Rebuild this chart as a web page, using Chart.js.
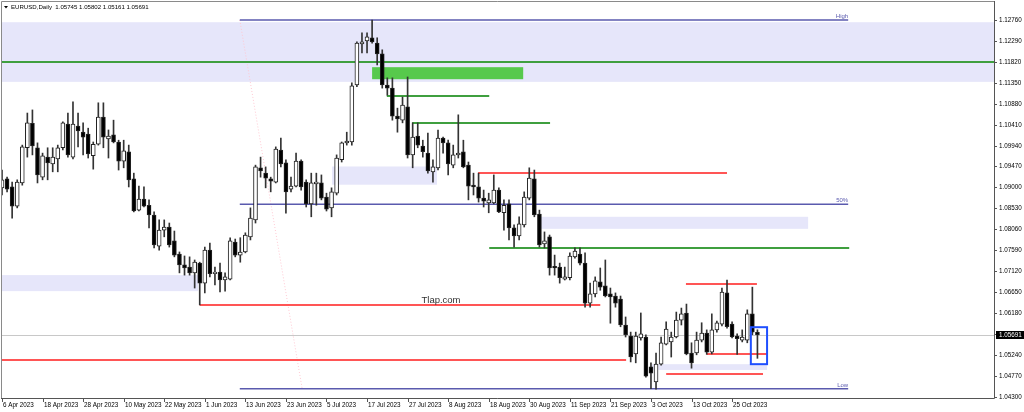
<!DOCTYPE html>
<html>
<head>
<meta charset="utf-8">
<script src="https://cdn.jsdelivr.net/npm/chart.js@4.4.1/dist/chart.umd.min.js"></script>
<style>
html, body { margin: 0; padding: 0; background: #fff; overflow: hidden; }
canvas { display: block; }
</style>
</head>
<body>
<canvas id="chart" width="1024" height="412"></canvas>
<script>
// EURUSD daily candles, 6 Apr 2023 .. 1 Nov 2023
const opens = [
  1.0899, 1.0919, 1.0901, 1.0858, 1.0910, 1.0989, 1.1044, 1.0989, 1.0923, 1.0968,
  1.0953, 1.0964, 1.0989, 1.1042, 1.0968, 1.1038, 1.1024, 1.1020, 1.0971, 1.0997,
  1.1058, 1.1009, 1.1018, 1.1002, 1.0959, 1.0980, 1.0919, 1.0849, 1.0874, 1.0860,
  1.0838, 1.0768, 1.0804, 1.0811, 1.0780, 1.0750, 1.0726, 1.0721, 1.0708, 1.0730,
  1.0685, 1.0759, 1.0706, 1.0710, 1.0692, 1.0694, 1.0777, 1.0748, 1.0755, 1.0789,
  1.0827, 1.0944, 1.0932, 1.0919, 1.0912, 1.0984, 1.0955, 1.0896, 1.0903, 1.0959,
  1.0912, 1.0863, 1.0908, 1.0910, 1.0878, 1.0854, 1.0887, 1.0962, 1.1000, 1.1002,
  1.1130, 1.1222, 1.1229, 1.1236, 1.1224, 1.1200, 1.1130, 1.1123, 1.1060, 1.1051,
  1.1081, 1.0973, 1.1015, 1.0993, 1.0977, 1.0935, 1.0944, 1.1011, 1.1000, 1.0950,
  1.0973, 1.0980, 1.0950, 1.0905, 1.0901, 1.0876, 1.0865, 1.0865, 1.0894, 1.0843,
  1.0863, 1.0809, 1.0791, 1.0816, 1.0876, 1.0919, 1.0840, 1.0773, 1.0789, 1.0723,
  1.0721, 1.0694, 1.0697, 1.0744, 1.0750, 1.0730, 1.0640, 1.0661, 1.0688, 1.0679,
  1.0661, 1.0656, 1.0649, 1.0591, 1.0566, 1.0526, 1.0562, 1.0564, 1.0497, 1.0463,
  1.0503, 1.0548, 1.0553, 1.0564, 1.0602, 1.0618, 1.0528, 1.0528, 1.0557, 1.0573,
  1.0530, 1.0580, 1.0593, 1.0663, 1.0593, 1.0566, 1.0557, 1.0557, 1.0616, 1.05745
];
const highs = [
  1.0939, 1.0923, 1.0912, 1.0917, 1.0995, 1.1067, 1.1074, 1.1000, 1.0977, 1.0989,
  1.0989, 1.0995, 1.1047, 1.1067, 1.1092, 1.1067, 1.1045, 1.1033, 1.1002, 1.1090,
  1.1090, 1.1029, 1.1051, 1.1006, 1.1006, 1.0995, 1.0932, 1.0903, 1.0901, 1.0872,
  1.0845, 1.0827, 1.0827, 1.0820, 1.0802, 1.0755, 1.0746, 1.0744, 1.0737, 1.0732,
  1.0766, 1.0775, 1.0721, 1.0730, 1.0708, 1.0787, 1.0784, 1.0787, 1.0798, 1.0854,
  1.0950, 1.0968, 1.0946, 1.0923, 1.0991, 1.1011, 1.0962, 1.0923, 1.0977, 1.0962,
  1.0917, 1.0932, 1.0932, 1.0928, 1.0887, 1.0899, 1.0973, 1.1002, 1.1024, 1.1135,
  1.1227, 1.1247, 1.1247, 1.1276, 1.1236, 1.1209, 1.1146, 1.1146, 1.1078, 1.1103,
  1.1148, 1.1045, 1.1045, 1.1006, 1.1022, 1.0962, 1.1029, 1.1013, 1.1006, 1.0995,
  1.1063, 1.1006, 1.0957, 1.0932, 1.0932, 1.0894, 1.0887, 1.0928, 1.0899, 1.0872,
  1.0872, 1.0816, 1.0834, 1.0890, 1.0944, 1.0939, 1.0849, 1.0800, 1.0793, 1.0748,
  1.0730, 1.0721, 1.0753, 1.0764, 1.0764, 1.0753, 1.0685, 1.0699, 1.0719, 1.0737,
  1.0674, 1.0663, 1.0656, 1.0609, 1.0575, 1.0575, 1.0618, 1.0569, 1.0506, 1.0528,
  1.0564, 1.0598, 1.0575, 1.0620, 1.0629, 1.0638, 1.0551, 1.0575, 1.0596, 1.0580,
  1.0616, 1.0600, 1.0674, 1.0692, 1.0598, 1.0571, 1.0580, 1.0625, 1.0676, 1.05802
];
const lows = [
  1.0883, 1.0890, 1.0831, 1.0854, 1.0905, 1.0968, 1.0973, 1.0910, 1.0917, 1.0917,
  1.0935, 1.0935, 1.0984, 1.0968, 1.0964, 1.0991, 1.0973, 1.0966, 1.0941, 1.0995,
  1.0989, 1.0966, 1.1000, 1.0939, 1.0944, 1.0901, 1.0845, 1.0847, 1.0856, 1.0809,
  1.0764, 1.0759, 1.0789, 1.0766, 1.0744, 1.0708, 1.0703, 1.0703, 1.0674, 1.0636,
  1.0663, 1.0699, 1.0681, 1.0665, 1.0667, 1.0692, 1.0744, 1.0732, 1.0753, 1.0782,
  1.0820, 1.0923, 1.0899, 1.0890, 1.0910, 1.0946, 1.0842, 1.0890, 1.0901, 1.0894,
  1.0856, 1.0834, 1.0860, 1.0872, 1.0847, 1.0834, 1.0883, 1.0957, 1.0995, 1.0995,
  1.1126, 1.1202, 1.1202, 1.1224, 1.1175, 1.1123, 1.1107, 1.1051, 1.1024, 1.1045,
  1.0966, 1.0944, 1.0989, 1.0968, 1.0932, 1.0912, 1.0939, 1.0977, 1.0928, 1.0944,
  1.0966, 1.0944, 1.0872, 1.0883, 1.0867, 1.0856, 1.0843, 1.0863, 1.0843, 1.0804,
  1.0782, 1.0766, 1.0782, 1.0811, 1.0872, 1.0834, 1.0766, 1.0764, 1.0703, 1.0703,
  1.0685, 1.0692, 1.0692, 1.0741, 1.0726, 1.0631, 1.0631, 1.0654, 1.0669, 1.0654,
  1.0595, 1.0631, 1.0587, 1.0564, 1.0508, 1.0506, 1.0557, 1.0474, 1.0448, 1.0447,
  1.0501, 1.0546, 1.0519, 1.0562, 1.0591, 1.0524, 1.0494, 1.0524, 1.0553, 1.0525,
  1.0526, 1.0575, 1.0589, 1.0584, 1.0562, 1.0525, 1.0553, 1.0551, 1.0569, 1.05161
];
const closes = [
  1.0917, 1.0896, 1.0858, 1.0912, 1.0991, 1.1045, 1.0993, 1.0928, 1.0971, 1.0955,
  1.0968, 1.0989, 1.1045, 1.0973, 1.1042, 1.1027, 1.1013, 1.0975, 1.0997, 1.1058,
  1.1013, 1.1015, 1.1002, 1.0959, 1.0982, 1.0917, 1.0847, 1.0874, 1.0858, 1.0838,
  1.0771, 1.0804, 1.0811, 1.0771, 1.0748, 1.0726, 1.0719, 1.0708, 1.0732, 1.0685,
  1.0759, 1.0706, 1.0710, 1.0692, 1.0699, 1.0780, 1.0748, 1.0755, 1.0793, 1.0831,
  1.0946, 1.0937, 1.0921, 1.0914, 1.0986, 1.0953, 1.0890, 1.0903, 1.0959, 1.0901,
  1.0863, 1.0910, 1.0912, 1.0876, 1.0851, 1.0890, 1.0966, 1.1000, 1.1004, 1.1128,
  1.1224, 1.1227, 1.1238, 1.1227, 1.1200, 1.1130, 1.1123, 1.1060, 1.1054, 1.1085,
  1.0973, 1.1013, 1.0995, 1.0980, 1.0937, 1.0946, 1.1011, 1.1000, 1.0953, 1.0973,
  1.0977, 1.0946, 1.0903, 1.0901, 1.0876, 1.0869, 1.0872, 1.0894, 1.0845, 1.0860,
  1.0809, 1.0791, 1.0818, 1.0878, 1.0921, 1.0838, 1.0771, 1.0780, 1.0719, 1.0719,
  1.0697, 1.0699, 1.0746, 1.0757, 1.0730, 1.0640, 1.0661, 1.0690, 1.0676, 1.0656,
  1.0654, 1.0640, 1.0591, 1.0569, 1.0519, 1.0566, 1.0571, 1.0476, 1.0483, 1.0503,
  1.0551, 1.0582, 1.0564, 1.0602, 1.0616, 1.0526, 1.0506, 1.0557, 1.0573, 1.0530,
  1.0580, 1.0596, 1.0665, 1.0587, 1.0564, 1.0560, 1.0564, 1.0616, 1.0575, 1.05691
];

// date labels, one every 8 bars starting at bar 0
const dateLabels = ['6 Apr 2023', '18 Apr 2023', '28 Apr 2023', '10 May 2023', '22 May 2023',
  '1 Jun 2023', '13 Jun 2023', '23 Jun 2023', '5 Jul 2023', '17 Jul 2023', '27 Jul 2023',
  '8 Aug 2023', '18 Aug 2023', '30 Aug 2023', '11 Sep 2023', '21 Sep 2023', '3 Oct 2023',
  '13 Oct 2023', '25 Oct 2023'];
const labelStep = 8;

const priceTicks = [1.12760, 1.12290, 1.11820, 1.11350, 1.10880, 1.10410, 1.09940, 1.09470,
  1.09000, 1.08530, 1.08060, 1.07590, 1.07120, 1.06650, 1.06180, 1.05710, 1.05240, 1.04770, 1.04300];
const lastPrice = 1.05691;
const header = 'EURUSD,Daily  1.05745 1.05802 1.05161 1.05691';

// drawn objects, in bar index / price units (null = edge of the chart)
const zones = [            // from, to, top, bottom, colour
  [null, null, 1.1271, 1.1137, '#e6e6fa'],
  [65.1, 85.8, 1.0947, 1.0906, '#e6e6fa'],
  [105.7, 159.0, 1.0834, 1.0807, '#e6e6fa'],
  [null, 38.7, 1.0703, 1.0667, '#e6e6fa'],
  [128.2, 150.9, 1.0503, 1.0490, '#e6e6fa'],
  [73.0, 102.8, 1.1170, 1.1143, '#57c94c']
];
const levels = [           // from, to, price, colour
  [null, null, 1.1182, '#3f9f3f'],
  [75.9, 96.1, 1.1106, '#3f9f3f'],
  [80.9, 108.1, 1.1045, '#3f9f3f'],
  [93.9, 143.0, 1.0932, '#ff5555'],
  [96.1, 167.1, 1.0765, '#3f9f3f'],
  [39.0, 118.0, 1.0635, '#ff5555'],
  [null, 123.1, 1.0512, '#ff5555'],
  [134.9, 148.9, 1.0683, '#ff5555'],
  [139.0, 150.9, 1.0525, '#ff5555'],
  [131.0, 150.1, 1.0481, '#ff5555']
];
const fibFrom = 46.9, fibTo = 166.9;
const fibLevels = [['High', 1.1276], ['50%', 1.0862], ['Low', 1.0448]];
const fibTrend = [[46.9, 1.1276], [59.2, 1.0448]];
const markBox = [147.7, 150.9, 1.0586, 1.0503];

const barStep = 5.07;
const yMax = 1.13164, yMin = 1.04270;

const bodyColours = opens.map((o, i) => closes[i] >= o ? '#ffffff' : '#000000');

const overlay = {
  id: 'overlay',
  beforeDatasetsDraw(chart) {
    const { ctx, chartArea: a, scales: { x, y } } = chart;
    const X = (v, edge) => v === null ? edge : x.getPixelForValue(v);
    ctx.save();
    ctx.beginPath();
    ctx.rect(a.left, a.top, a.right - a.left, a.bottom - a.top);
    ctx.clip();

    zones.forEach(([f, t, top, bot, col]) => {
      const x1 = X(f, a.left), x2 = X(t, a.right);
      const y1 = y.getPixelForValue(top), y2 = y.getPixelForValue(bot);
      ctx.fillStyle = col;
      ctx.fillRect(x1, y1, x2 - x1, y2 - y1);
    });

    // current price
    const py = Math.round(y.getPixelForValue(lastPrice)) + 0.5;
    ctx.strokeStyle = '#c8c8c8';
    ctx.lineWidth = 1;
    ctx.beginPath(); ctx.moveTo(a.left, py); ctx.lineTo(a.right, py); ctx.stroke();

    // fibo trend line
    ctx.strokeStyle = '#ffc8d2';
    ctx.setLineDash([1, 2]);
    ctx.beginPath();
    ctx.moveTo(X(fibTrend[0][0]), y.getPixelForValue(fibTrend[0][1]));
    ctx.lineTo(X(fibTrend[1][0]), y.getPixelForValue(fibTrend[1][1]));
    ctx.stroke();
    ctx.setLineDash([]);

    // fibo levels
    ctx.strokeStyle = '#5a5aae';
    ctx.lineWidth = 1.5;
    fibLevels.forEach(([name, p]) => {
      const ly = y.getPixelForValue(p);
      ctx.beginPath(); ctx.moveTo(X(fibFrom), ly); ctx.lineTo(X(fibTo), ly); ctx.stroke();
    });

    ctx.lineWidth = 2;
    levels.forEach(([f, t, p, col]) => {
      const ly = Math.round(y.getPixelForValue(p));
      ctx.strokeStyle = col;
      ctx.beginPath(); ctx.moveTo(X(f, a.left), ly); ctx.lineTo(X(t, a.right), ly); ctx.stroke();
    });
    ctx.restore();
  },
  afterDatasetsDraw(chart) {
    const { ctx, scales: { x, y } } = chart;
    ctx.save();
    ctx.strokeStyle = '#1f4fff';
    ctx.lineWidth = 2;
    const x1 = x.getPixelForValue(markBox[0]), x2 = x.getPixelForValue(markBox[1]);
    const y1 = y.getPixelForValue(markBox[2]), y2 = y.getPixelForValue(markBox[3]);
    ctx.strokeRect(x1, y1, x2 - x1, y2 - y1);

    ctx.fillStyle = '#5a5aae';
    ctx.font = '6px "Liberation Sans", Arial, sans-serif';
    ctx.textAlign = 'right';
    ctx.textBaseline = 'bottom';
    fibLevels.forEach(([name, p]) => {
      ctx.fillText(name, x.getPixelForValue(fibTo), y.getPixelForValue(p) - 0.5);
    });

    ctx.fillStyle = '#333';
    ctx.font = '9.5px "Liberation Sans", Arial, sans-serif';
    ctx.textAlign = 'center';
    ctx.textBaseline = 'middle';
    ctx.fillText('Tlap.com', 441, 300);
    ctx.restore();
  },
  afterDraw(chart) {
    const { ctx, chartArea: a, scales: { x, y } } = chart;
    ctx.save();
    // frame
    ctx.strokeStyle = '#8a8a8a';
    ctx.lineWidth = 1;
    ctx.beginPath();
    ctx.moveTo(1.5, a.bottom); ctx.lineTo(1.5, 1.5); ctx.lineTo(a.right, 1.5);
    ctx.stroke();
    ctx.strokeStyle = '#555';
    ctx.beginPath();
    ctx.moveTo(a.right + 0.5, 1); ctx.lineTo(a.right + 0.5, a.bottom + 0.5); ctx.lineTo(1, a.bottom + 0.5);
    ctx.stroke();

    // price scale
    ctx.font = '6.3px "Liberation Sans", Arial, sans-serif';
    ctx.fillStyle = '#000';
    ctx.textAlign = 'left';
    ctx.textBaseline = 'middle';
    priceTicks.forEach(t => {
      const ty = Math.round(y.getPixelForValue(t)) + 0.5;
      ctx.beginPath(); ctx.moveTo(a.right, ty); ctx.lineTo(a.right + 3, ty); ctx.stroke();
      ctx.fillText(t.toFixed(5), a.right + 5, ty);
    });
    const cy = Math.round(y.getPixelForValue(lastPrice));
    ctx.fillStyle = '#000';
    ctx.fillRect(a.right + 2, cy - 4, 30, 8);
    ctx.fillStyle = '#fff';
    ctx.fillText(lastPrice.toFixed(5), a.right + 5, cy);

    // time scale
    ctx.fillStyle = '#000';
    dateLabels.forEach((d, k) => {
      const tx = Math.round(x.getPixelForValue(k * labelStep)) + 0.5;
      ctx.beginPath(); ctx.moveTo(tx, a.bottom); ctx.lineTo(tx, a.bottom + 4); ctx.stroke();
      ctx.fillText(d, tx + 0.5, a.bottom + 7);
    });

    // header
    ctx.beginPath();
    ctx.moveTo(4, 6); ctx.lineTo(8, 6); ctx.lineTo(6, 8.5); ctx.closePath(); ctx.fill();
    ctx.font = '6.1px "Liberation Sans", Arial, sans-serif';
    ctx.fillText(header, 11, 7);
    ctx.restore();
  }
};

new Chart(document.getElementById('chart'), {
  type: 'bar',
  data: {
    datasets: [
      {
        label: 'body',
        data: opens.map((o, i) => ({ x: i, y: [o, closes[i]] })),
        backgroundColor: bodyColours,
        borderColor: '#222',
        borderWidth: 1,
        borderSkipped: false,
        barThickness: 4,
        minBarLength: 1,
        grouped: false
      },
      {
        label: 'wick',
        data: lows.map((l, i) => ({ x: i, y: [l, highs[i]] })),
        backgroundColor: '#333',
        borderWidth: 0,
        barThickness: 1,
        grouped: false
      }
    ]
  },
  options: {
    responsive: false,
    animation: false,
    devicePixelRatio: 1,
    layout: { padding: { left: 2, top: 2, right: 30, bottom: 14 } },
    plugins: { legend: { display: false }, tooltip: { enabled: false } },
    scales: {
      x: { type: 'linear', min: 0, max: 992 / barStep, display: false, offset: false },
      y: { min: yMin, max: yMax, display: false }
    }
  },
  plugins: [overlay]
});
</script>
</body>
</html>
